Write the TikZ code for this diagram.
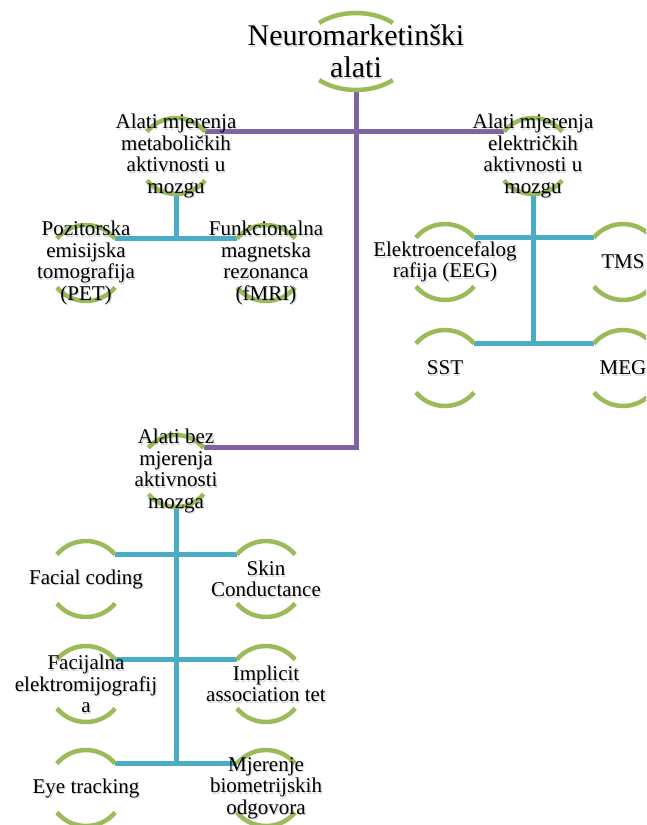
\documentclass[tikz,border=0pt]{standalone}
\usepackage{fontspec}
\setmainfont{Liberation Serif}
\newfontfamily\lserif{Liberation Serif}
\usetikzlibrary{shapes.geometric,calc}
\definecolor{purp}{HTML}{8064A2}
\definecolor{blu}{HTML}{4BACC6}
\definecolor{grn}{HTML}{9BBB59}
\newcommand\ringarcs[2]{%
  \draw[arcg] ($(#1)+(40:#2)$) arc[start angle=40,end angle=140,radius=#2];
  \draw[arcg] ($(#1)+(220:#2)$) arc[start angle=220,end angle=320,radius=#2];}
\newcommand\tlabel[3]{%
  \node[lbl,text=black!45,opacity=0.35] at ($(#1)+(1.2,-1.6)$) {#3};
  \node[lbl] (#2) at (#1) {#3};}
\begin{document}
\begin{tikzpicture}[x=1pt,y=1pt,
  ring/.style={circle,minimum size=76pt,inner sep=0pt,outer sep=0pt},
  lbl/.style={align=center,inner sep=0pt,font=\lserif\fontsize{21}{21.5}\selectfont},
  arcg/.style={draw=grn,line width=4.5pt},
  pline/.style={draw=purp,line width=5pt},
  bline/.style={draw=blu,line width=5pt}]
\useasboundingbox (0,0) rectangle (646,-825);
\clip (0,0) rectangle (646,-825);
% ring nodes
\node[ellipse,minimum width=110pt,minimum height=77pt,inner sep=0pt,outer sep=0pt] (root) at (356,-51.5) {};
\node[ring] (met) at (176,-156) {};
\node[ring] (ele) at (533,-156) {};
\node[ring] (pet) at (86,-263) {};
\node[ring] (fmri) at (266,-263) {};
\node[ring] (eeg) at (445,-262) {};
\node[ring] (tms) at (623,-262) {};
\node[ring] (sst) at (445,-368) {};
\node[ring] (meg) at (623,-368) {};
\node[ring,minimum size=72pt] (bez) at (176,-471) {};
\node[ring] (fc) at (86,-579) {};
\node[ring] (sc) at (266,-579) {};
\node[ring] (fe) at (86,-684) {};
\node[ring] (iat) at (266,-684) {};
\node[ring] (et) at (86,-788) {};
\node[ring] (mb) at (266,-788) {};
% connectors
\draw[pline] (root.south) -- (root.south |- bez.40) -- (bez.40);
\draw[pline] (met.40) -- (ele.140);
\draw[bline] (met.south) -- (met.south |- pet.40);
\draw[bline] (pet.40) -- (fmri.140);
\draw[bline] (ele.south) -- (ele.south |- sst.40);
\draw[bline] (eeg.40) -- (tms.140);
\draw[bline] (sst.40) -- (meg.140);
\draw[bline] (bez.south) -- (bez.south |- et.40);
\draw[bline] (fc.40) -- (sc.140);
\draw[bline] (fe.40) -- (iat.140);
\draw[bline] (et.40) -- (mb.140);
% arcs
\draw[arcg] ($(root)+(48:55pt and 38.5pt)$) arc[start angle=48,end angle=132,x radius=55pt,y radius=38.5pt];
\draw[arcg] ($(root)+(228:55pt and 38.5pt)$) arc[start angle=228,end angle=312,x radius=55pt,y radius=38.5pt];
\ringarcs{met}{38pt}
\ringarcs{ele}{38pt}
\ringarcs{pet}{38pt}
\ringarcs{fmri}{38pt}
\ringarcs{eeg}{38pt}
\ringarcs{tms}{38pt}
\ringarcs{sst}{38pt}
\ringarcs{meg}{38pt}
\ringarcs{bez}{36pt}
\ringarcs{fc}{38pt}
\ringarcs{sc}{38pt}
\ringarcs{fe}{38pt}
\ringarcs{iat}{38pt}
\ringarcs{et}{38pt}
\ringarcs{mb}{38pt}
% texts
\node[lbl,text=black!45,opacity=0.35,font=\lserif\fontsize{30}{32}\selectfont] at ($(root)+(1.2,-1.6)$) {Neuromarketinški\\alati};
\node[lbl,font=\lserif\fontsize{30}{32}\selectfont] (root-t) at (root) {Neuromarketinški\\alati};
\tlabel{met}{met-t}{Alati mjerenja\\metaboličkih\\aktivnosti u\\mozgu}
\tlabel{ele}{ele-t}{Alati mjerenja\\električkih\\aktivnosti u\\mozgu}
\tlabel{pet}{pet-t}{Pozitorska\\emisijska\\tomografija\\(PET)}
\tlabel{fmri}{fmri-t}{Funkcionalna\\magnetska\\rezonanca\\(fMRI)}
\tlabel{eeg}{eeg-t}{Elektroencefalog\\rafija (EEG)}
\tlabel{tms}{tms-t}{TMS}
\tlabel{sst}{sst-t}{SST}
\tlabel{meg}{meg-t}{MEG}
\tlabel{bez}{bez-t}{Alati bez\\mjerenja\\aktivnosti\\mozga}
\tlabel{fc}{fc-t}{Facial coding}
\tlabel{sc}{sc-t}{Skin\\Conductance}
\tlabel{fe}{fe-t}{Facijalna\\elektromijografij\\a}
\tlabel{iat}{iat-t}{Implicit\\association tet}
\tlabel{et}{et-t}{Eye tracking}
\tlabel{mb}{mb-t}{Mjerenje\\biometrijskih\\odgovora}
\end{tikzpicture}
\end{document}
